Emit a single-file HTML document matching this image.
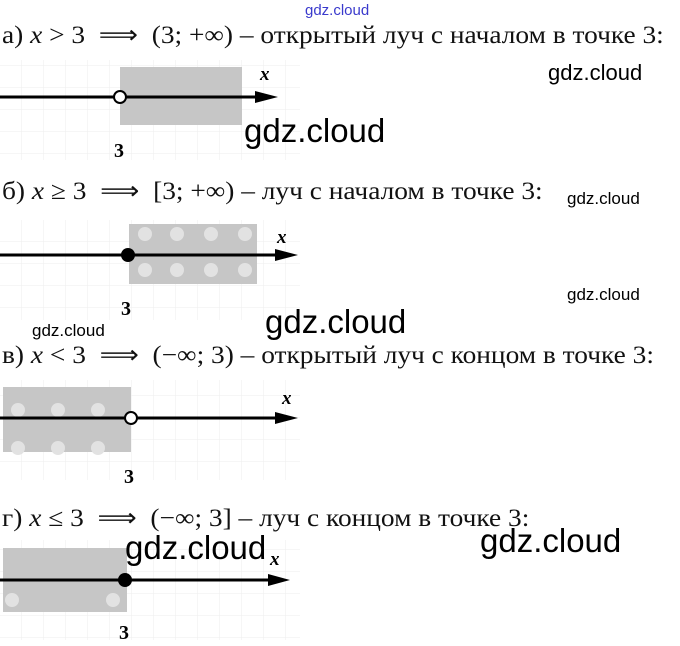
<!DOCTYPE html>
<html><head><meta charset="utf-8"><style>
body{margin:0;width:680px;height:646px;background:#fff;position:relative;overflow:hidden;font-family:"Liberation Serif",serif}
.t{position:absolute;left:2px;font-size:25px;white-space:nowrap;color:#111;transform-origin:0 0;transform:scaleX(1.095)}
.w{position:absolute;font-family:"Liberation Sans",sans-serif;color:#000;white-space:nowrap}
svg{position:absolute;left:0;top:0}
</style></head><body>
<svg width="680" height="646">
<defs><pattern id="g" width="22" height="22" patternUnits="userSpaceOnUse"><path d="M22 0V22H0" fill="none" stroke="#eee" stroke-width="1"/></pattern></defs>
<rect x="0" y="60" width="300" height="100" fill="url(#g)"/>
<rect x="0" y="220" width="300" height="100" fill="url(#g)"/>
<rect x="0" y="380" width="300" height="100" fill="url(#g)"/>
<rect x="0" y="540" width="300" height="100" fill="url(#g)"/>
<rect x="120" y="67" width="122" height="58" fill="#c6c6c6"/>
<line x1="0" y1="97" x2="262" y2="97" stroke="#000" stroke-width="3"/>
<polygon points="255,91 278,97 255,103" fill="#000"/>
<circle cx="120" cy="97" r="6" fill="#fff" stroke="#000" stroke-width="2"/>
<text x="260" y="80" font-size="19" font-style="italic" font-weight="bold" font-family="Liberation Serif">x</text>
<text x="114" y="157" font-size="20" font-weight="bold" font-family="Liberation Serif">3</text>
<rect x="129" y="224" width="128" height="60" fill="#c6c6c6"/>
<g fill="#e2e2e2"><circle cx="145" cy="234" r="7"/><circle cx="177" cy="234" r="7"/><circle cx="211" cy="234" r="7"/><circle cx="245" cy="234" r="7"/><circle cx="145" cy="270" r="7"/><circle cx="177" cy="270" r="7"/><circle cx="211" cy="270" r="7"/><circle cx="245" cy="270" r="7"/></g>
<line x1="0" y1="255" x2="282" y2="255" stroke="#000" stroke-width="3"/>
<polygon points="275,249 298,255 275,261" fill="#000"/>
<circle cx="128" cy="255" r="7" fill="#000"/>
<text x="277" y="243" font-size="19" font-style="italic" font-weight="bold">x</text>
<text x="121" y="315" font-size="20" font-weight="bold">3</text>
<rect x="3" y="387" width="128" height="65" fill="#c6c6c6"/>
<g fill="#e2e2e2"><circle cx="18" cy="410" r="7"/><circle cx="58" cy="410" r="7"/><circle cx="98" cy="410" r="7"/><circle cx="18" cy="448" r="7"/><circle cx="58" cy="448" r="7"/><circle cx="98" cy="448" r="7"/></g>
<line x1="0" y1="418" x2="282" y2="418" stroke="#000" stroke-width="3"/>
<polygon points="275,412 298,418 275,424" fill="#000"/>
<circle cx="131" cy="418" r="6" fill="#fff" stroke="#000" stroke-width="2"/>
<text x="282" y="404" font-size="19" font-style="italic" font-weight="bold">x</text>
<text x="124" y="483" font-size="20" font-weight="bold">3</text>
<rect x="3" y="548" width="124" height="64" fill="#c6c6c6"/>
<g fill="#e2e2e2"><circle cx="12" cy="600" r="7"/><circle cx="113" cy="600" r="7"/></g>
<line x1="0" y1="580" x2="275" y2="580" stroke="#000" stroke-width="3"/>
<polygon points="268,574 290,580 268,586" fill="#000"/>
<circle cx="125" cy="580" r="7" fill="#000"/>
<text x="270" y="565" font-size="19" font-style="italic" font-weight="bold">x</text>
<text x="119" y="639" font-size="20" font-weight="bold">3</text>
</svg>
<div class="t" style="top:20px">а) <i>x</i> &gt; 3 &nbsp;⟹&nbsp; (3; +∞) – открытый луч с началом в точке 3:</div>
<div class="t" style="top:176px">б) <i>x</i> ≥ 3 &nbsp;⟹&nbsp; [3; +∞) – луч с началом в точке 3:</div>
<div class="t" style="top:340px">в) <i>x</i> &lt; 3 &nbsp;⟹&nbsp; (−∞; 3) – открытый луч с концом в точке 3:</div>
<div class="t" style="top:503px">г) <i>x</i> ≤ 3 &nbsp;⟹&nbsp; (−∞; 3] – луч с концом в точке 3:</div>
<div class="w" style="left:305px;top:2px;font-size:15px;color:#3a3acc">gdz.cloud</div>
<div class="w" style="left:548px;top:60px;font-size:22px">gdz.cloud</div>
<div class="w" style="left:244px;top:112px;font-size:33px">gdz.cloud</div>
<div class="w" style="left:567px;top:189px;font-size:17px">gdz.cloud</div>
<div class="w" style="left:567px;top:285px;font-size:17px">gdz.cloud</div>
<div class="w" style="left:32px;top:321px;font-size:17px">gdz.cloud</div>
<div class="w" style="left:265px;top:303px;font-size:33px">gdz.cloud</div>
<div class="w" style="left:125px;top:529px;font-size:33px">gdz.cloud</div>
<div class="w" style="left:480px;top:522px;font-size:33px">gdz.cloud</div>
</body></html>
